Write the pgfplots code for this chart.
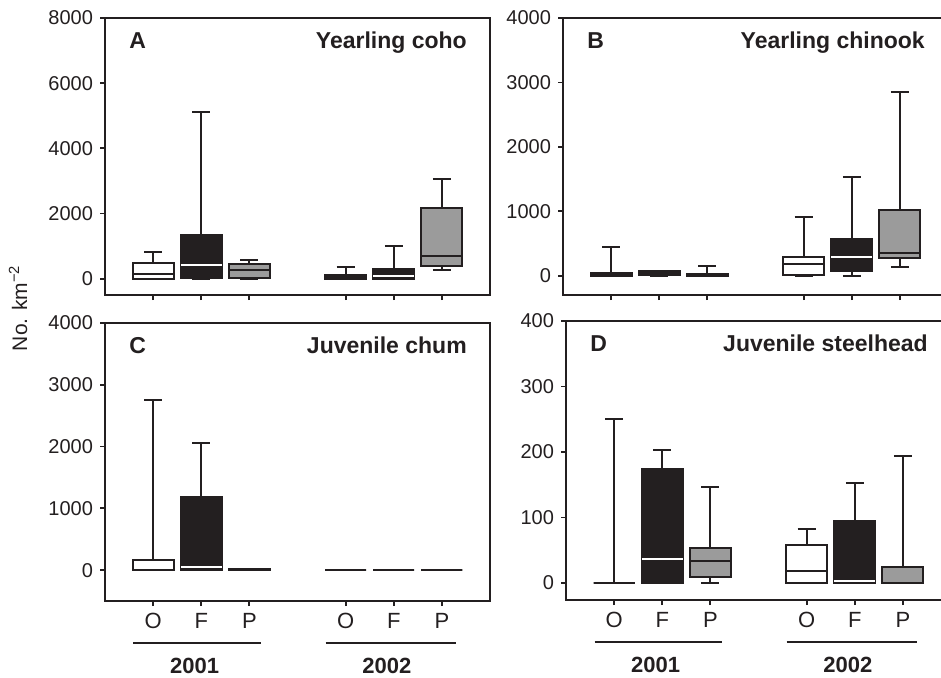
\documentclass[border=0pt]{standalone}
\usepackage{fontspec}
\setmainfont{Liberation Sans}
\usepackage{pgfplots}
\pgfplotsset{compat=1.18}
\definecolor{dark}{RGB}{35,31,32}
\definecolor{boxgray}{RGB}{155,155,155}

\pgfplotsset{
  panel/.style={
    scale only axis, width=192.5pt,
    xmin=0, xmax=8, xtick={1,2,3,5,6,7}, xticklabels={},
    tick pos=left, tick align=outside, major tick length=2.5pt,
    axis line style={dark, line width=0.9pt},
    tick style={dark, line width=0.9pt},
    ticklabel style={font=\fontsize{10}{12}\selectfont, text=dark},
    xticklabel style={font=\fontsize{11}{13}\selectfont},
    /pgf/number format/1000 sep={},
    /pgf/number format/assume math mode=true,
    clip=false,
  },
  ln/.style={draw=dark, line width=1pt, mark=none},
}
% box: position, lower whisker, lower quartile, median, upper quartile, upper whisker, fill, median colour
\newcommand{\bx}[8]{%
  \pgfmathsetmacro\xl{#1-0.425}\pgfmathsetmacro\xr{#1+0.425}%
  \pgfmathsetmacro\cl{#1-0.185}\pgfmathsetmacro\cr{#1+0.185}%
  \addplot[ln] coordinates {(#1,#5) (#1,#6)};
  \addplot[ln] coordinates {(#1,#2) (#1,#3)};
  \addplot[ln] coordinates {(\cl,#6) (\cr,#6)};
  \addplot[ln] coordinates {(\cl,#2) (\cr,#2)};
  \addplot[ln, fill=#7] coordinates {(\xl,#3) (\xr,#3) (\xr,#5) (\xl,#5)} -- cycle;
  \addplot[ln, draw=#8] coordinates {(\xl,#4) (\xr,#4)};
}
\newcommand{\ptitle}[2]{%
  \node[anchor=base west, text=dark, font=\bfseries\fontsize{11.5}{13}\selectfont] at (rel axis cs:0.045,0.89) {#1};
  \node[anchor=base east, text=dark, font=\bfseries\fontsize{11.5}{13}\selectfont] at (rel axis cs:0.958,0.89) {#2};}
\newcommand{\years}{%
  \draw[dark, line width=0.9pt] ([yshift=-21pt]rel axis cs:0.074,0) -- ([yshift=-21pt]rel axis cs:0.404,0);
  \draw[dark, line width=0.9pt] ([yshift=-21pt]rel axis cs:0.573,0) -- ([yshift=-21pt]rel axis cs:0.912,0);
  \node[anchor=base, text=dark, font=\bfseries\fontsize{11}{13}\selectfont] at ([yshift=-36pt]rel axis cs:0.233,0) {2001};
  \node[anchor=base, text=dark, font=\bfseries\fontsize{11}{13}\selectfont] at ([yshift=-36pt]rel axis cs:0.732,0) {2002};}

\begin{document}
\begin{tikzpicture}
% A
\begin{axis}[panel, at={(52.5pt,-9pt)}, anchor=north west, height=138.5pt,
  ymin=-500, ymax=8000, ytick={0,2000,4000,6000,8000}]
\bx{1}{0}{0}{140}{490}{820}{white}{dark}
\bx{2}{0}{30}{420}{1340}{5110}{dark}{white}
\bx{3}{0}{15}{265}{460}{570}{boxgray}{dark}
\bx{5}{0}{0}{40}{110}{360}{white}{dark}
\bx{6}{0}{0}{80}{300}{1000}{dark}{white}
\bx{7}{265}{390}{710}{2160}{3060}{boxgray}{dark}
\ptitle{A}{Yearling coho}
\end{axis}
% B
\begin{axis}[panel, at={(281.5pt,-9pt)}, anchor=north west, height=138.5pt,
  ymin=-300, ymax=4000, ytick={0,1000,2000,3000,4000}]
\bx{1}{0}{0}{10}{40}{450}{white}{dark}
\bx{2}{0}{5}{30}{65}{70}{dark}{dark}
\bx{3}{0}{0}{10}{30}{155}{boxgray}{dark}
\bx{5}{0}{15}{185}{290}{910}{white}{dark}
\bx{6}{0}{75}{285}{575}{1530}{dark}{white}
\bx{7}{130}{270}{350}{1025}{2850}{boxgray}{dark}
\ptitle{B}{Yearling chinook}
\end{axis}
% C
\begin{axis}[panel, at={(52.5pt,-161.5pt)}, anchor=north west, height=139pt,
  ymin=-500, ymax=4000, ytick={0,1000,2000,3000,4000},
  xticklabels={O,F,P,O,F,P}]
\bx{1}{0}{0}{0}{170}{2760}{white}{dark}
\bx{2}{0}{0}{50}{1190}{2050}{dark}{white}
\bx{3}{0}{0}{0}{15}{25}{boxgray}{dark}
\bx{5}{0}{0}{0}{0}{0}{white}{dark}
\bx{6}{0}{0}{0}{0}{10}{dark}{dark}
\bx{7}{0}{0}{0}{0}{0}{boxgray}{dark}
\ptitle{C}{Juvenile chum}
\years
\end{axis}
% D
\begin{axis}[panel, at={(283pt,-160.5pt)}, anchor=north west, height=139.5pt,
  ymin=-26, ymax=400, ytick={0,100,200,300,400},
  xticklabels={O,F,P,O,F,P}]
\bx{1}{0}{0}{0}{0}{250}{white}{dark}
\bx{2}{0}{0}{37}{174}{203}{dark}{white}
\bx{3}{0}{9}{34}{54}{146}{boxgray}{dark}
\bx{5}{0}{0}{18}{58}{82}{white}{dark}
\bx{6}{0}{0}{3}{94}{153}{dark}{white}
\bx{7}{0}{0}{0}{25}{194}{boxgray}{dark}
\ptitle{D}{Juvenile steelhead}
\years
\end{axis}
\node[rotate=90, text=dark, font=\fontsize{10.5}{12}\selectfont] at (9pt,-154pt) {No. km\textsuperscript{−2}};
\pgfresetboundingbox
\useasboundingbox (0pt,0pt) rectangle (470.5pt,-338.5pt);
\end{tikzpicture}
\end{document}
